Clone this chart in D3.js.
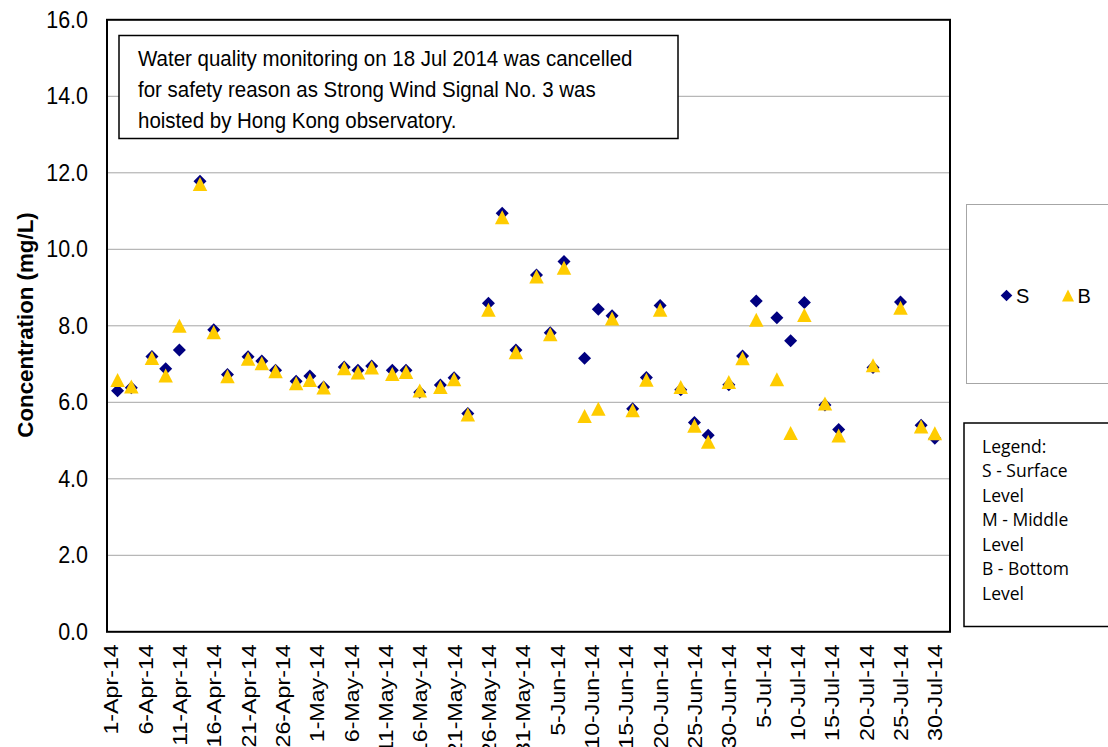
<!DOCTYPE html>
<html>
<head>
<meta charset="utf-8">
<script src="https://cdn.jsdelivr.net/npm/d3@7"></script>
<style>
  body { margin: 0; background: #fff; }
  svg { display: block; font-family: "Liberation Sans", Arial, sans-serif; }
</style>
</head>
<body>
<div id="chart"></div>
<script>
// sampling dates (Mon/Wed/Fri), 18 Jul cancelled
const dates = [
  "2014-04-02","2014-04-04","2014-04-07","2014-04-09","2014-04-11","2014-04-14","2014-04-16","2014-04-18",
  "2014-04-21","2014-04-23","2014-04-25","2014-04-28","2014-04-30","2014-05-02","2014-05-05","2014-05-07",
  "2014-05-09","2014-05-12","2014-05-14","2014-05-16","2014-05-19","2014-05-21","2014-05-23","2014-05-26",
  "2014-05-28","2014-05-30","2014-06-02","2014-06-04","2014-06-06","2014-06-09","2014-06-11","2014-06-13",
  "2014-06-16","2014-06-18","2014-06-20","2014-06-23","2014-06-25","2014-06-27","2014-06-30","2014-07-02",
  "2014-07-04","2014-07-07","2014-07-09","2014-07-11","2014-07-14","2014-07-16","2014-07-21","2014-07-25",
  "2014-07-28","2014-07-30"
];

// S - surface level
const surface = [
  6.30, 6.38, 7.20, 6.88, 7.37, 11.78, 7.90, 6.73,
  7.19, 7.08, 6.84, 6.55, 6.69, 6.40, 6.92, 6.84,
  6.95, 6.84, 6.84, 6.26, 6.45, 6.64, 5.71, 8.59,
  10.94, 7.37, 9.33, 7.82, 9.68, 7.15, 8.43, 8.26,
  5.83, 6.65, 8.53, 6.33, 5.47, 5.14, 6.46, 7.21,
  8.65, 8.21, 7.61, 8.61, 5.93, 5.29, 6.91, 8.62,
  5.40, 5.06
];

// B - bottom level
const bottom = [
  6.58, 6.41, 7.16, 6.70, 8.00, 11.71, 7.83, 6.68,
  7.14, 7.02, 6.81, 6.50, 6.58, 6.39, 6.89, 6.78,
  6.91, 6.74, 6.79, 6.31, 6.40, 6.60, 5.68, 8.42,
  10.84, 7.31, 9.29, 7.78, 9.52, 5.64, 5.83, 8.19,
  5.79, 6.59, 8.42, 6.40, 5.39, 4.97, 6.53, 7.15,
  8.16, 6.60, 5.20, 8.28, 5.97, 5.13, 6.97, 8.47,
  5.37, 5.19
];

const tickLabels = [
  "1-Apr-14","6-Apr-14","11-Apr-14","16-Apr-14","21-Apr-14","26-Apr-14",
  "1-May-14","6-May-14","11-May-14","16-May-14","21-May-14","26-May-14","31-May-14",
  "5-Jun-14","10-Jun-14","15-Jun-14","20-Jun-14","25-Jun-14","30-Jun-14",
  "5-Jul-14","10-Jul-14","15-Jul-14","20-Jul-14","25-Jul-14","30-Jul-14"
];
const yTicks = [0, 2, 4, 6, 8, 10, 12, 14, 16];

const noteLines = [
  "Water quality monitoring on 18 Jul 2014 was cancelled",
  "for safety reason as Strong Wind Signal No. 3 was",
  "hoisted by Hong Kong observatory."
];
const legendNote = ["Legend:", "S - Surface", "Level", "M - Middle", "Level", "B - Bottom", "Level"];

const svgWidth = 1108;
const svgHeight = 747;
const plot = { left: 107, right: 950, top: 19.8, bottom: 631.8 };

const parseDate = d3.utcParse("%Y-%m-%d");
const parseTick = d3.utcParse("%d-%b-%y");

const data = dates.map((d, i) => ({ date: parseDate(d), s: surface[i], b: bottom[i] }));

const svg = d3.select("#chart")
  .append("svg")
  .attr("width", svgWidth)
  .attr("height", svgHeight);

const x = d3.scaleUtc()
  .domain([new Date(Date.UTC(2014, 2, 31, 11)), new Date(Date.UTC(2014, 7, 1, 5))])
  .range([plot.left, plot.right]);

const y = d3.scaleLinear()
  .domain([0, 16])
  .range([plot.bottom, plot.top]);

// gridlines
svg.append("g")
  .selectAll("line")
  .data(yTicks.filter(t => t > 0 && t < 16))
  .enter().append("line")
  .attr("x1", plot.left)
  .attr("x2", plot.right)
  .attr("y1", d => y(d))
  .attr("y2", d => y(d))
  .attr("stroke", "#a6a6a6")
  .attr("stroke-width", 1);

// y axis
const yAxis = svg.append("g")
  .attr("transform", `translate(${plot.left},0)`)
  .call(d3.axisLeft(y).tickValues(yTicks).tickFormat(d3.format(".1f")).tickSize(0).tickPadding(19));
yAxis.select(".domain").remove();
yAxis.selectAll("text")
  .attr("font-size", "21.5px")
  .attr("font-family", "Liberation Sans, Arial, sans-serif")
  .attr("fill", "#000")
  .attr("transform", "scale(1,1.08)");

svg.append("text")
  .attr("transform", `translate(33, 325) rotate(-90) scale(0.97,1)`)
  .attr("text-anchor", "middle")
  .attr("font-size", "23px")
  .attr("font-weight", "bold")
  .text("Concentration (mg/L)");

// x axis
const xAxis = svg.append("g")
  .attr("transform", `translate(0,${plot.bottom})`)
  .call(d3.axisBottom(x)
    .tickValues(tickLabels.map(parseTick))
    .tickFormat(d3.utcFormat("%-d-%b-%y"))
    .tickSize(0));
xAxis.select(".domain").remove();
xAxis.selectAll("text")
  .attr("font-size", "19.5px")
  .attr("font-family", "Liberation Sans, Arial, sans-serif")
  .attr("fill", "#000")
  .attr("text-anchor", "end")
  .attr("transform", "rotate(-90) scale(1.19,1)")
  .attr("x", -10.5)
  .attr("y", 0)
  .attr("dy", "0.36em");

// plot border
svg.append("rect")
  .attr("x", plot.left)
  .attr("y", plot.top)
  .attr("width", plot.right - plot.left)
  .attr("height", plot.bottom - plot.top)
  .attr("fill", "none")
  .attr("stroke", "#000")
  .attr("stroke-width", 2);

function diamond(r) {
  return `M0,${-r}L${r},0L0,${r}L${-r},0Z`;
}
function triangle(w, h) {
  return `M0,${-h / 2}L${w / 2},${h / 2}L${-w / 2},${h / 2}Z`;
}

// markers
svg.selectAll(".s")
  .data(data)
  .enter().append("path")
  .attr("class", "s")
  .attr("d", diamond(6.5))
  .attr("transform", d => `translate(${x(d.date)},${y(d.s)})`)
  .attr("fill", "#000080");

svg.selectAll(".b")
  .data(data)
  .enter().append("path")
  .attr("class", "b")
  .attr("d", triangle(14.5, 14))
  .attr("transform", d => `translate(${x(d.date)},${y(d.b)})`)
  .attr("fill", "#ffcc00");

// annotation box
svg.append("rect")
  .attr("x", 119)
  .attr("y", 35.5)
  .attr("width", 559)
  .attr("height", 103)
  .attr("fill", "#fff")
  .attr("stroke", "#000")
  .attr("stroke-width", 1.5);

svg.append("g")
  .selectAll("text")
  .data(noteLines)
  .enter().append("text")
  .attr("transform", (d, i) => `translate(138,${66 + i * 31}) scale(1,1.1)`)
  .attr("font-size", "20.5px")
  .text(d => d);

// series legend
svg.append("rect")
  .attr("x", 966.5)
  .attr("y", 204.5)
  .attr("width", 160)
  .attr("height", 179)
  .attr("fill", "#fff")
  .attr("stroke", "#a6a6a6")
  .attr("stroke-width", 1);

svg.append("path").attr("d", diamond(5.8)).attr("transform", "translate(1006.5,295.5)").attr("fill", "#000080");
svg.append("text").attr("x", 1016).attr("y", 302.5).attr("font-size", "20px").text("S");
svg.append("path").attr("d", triangle(12, 12)).attr("transform", "translate(1068,295.5)").attr("fill", "#ffcc00");
svg.append("text").attr("x", 1077.5).attr("y", 302.5).attr("font-size", "20px").text("B");

// text legend
svg.append("rect")
  .attr("x", 964)
  .attr("y", 423)
  .attr("width", 160)
  .attr("height", 203.5)
  .attr("fill", "#fff")
  .attr("stroke", "#000")
  .attr("stroke-width", 1.5);

svg.append("g")
  .selectAll("text")
  .data(legendNote)
  .enter().append("text")
  .attr("x", 982)
  .attr("y", (d, i) => 452.5 + i * 24.5)
  .attr("font-family", "Open Sans, sans-serif")
  .attr("font-size", "17.5px")
  .text(d => d);
</script>
</body>
</html>
